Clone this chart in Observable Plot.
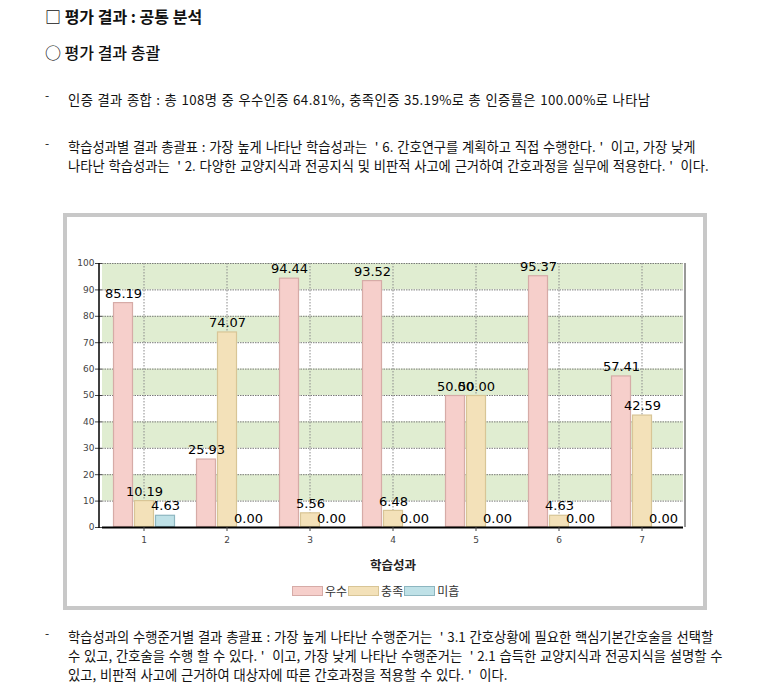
<!DOCTYPE html>
<html><head><meta charset="utf-8">
<script src="https://cdn.jsdelivr.net/npm/d3@7"></script>
<script src="https://cdn.jsdelivr.net/npm/@observablehq/plot@0.6"></script>
<style>
html,body{margin:0;padding:0;background:#fff;width:766px;height:692px;overflow:hidden;}
body{position:relative;font-family:"Noto Sans CJK KR","Noto Sans",sans-serif;color:#111;}
.t{position:absolute;white-space:nowrap;}
.h1{left:45px;top:4px;font-size:16px;font-weight:bold;}
.h2{left:45px;top:40px;font-size:16px;font-weight:500;}
.dash{position:absolute;left:45px;font-size:12px;}
.p{position:absolute;left:68px;font-size:13.3px;line-height:19px;white-space:pre;word-spacing:0.8px;}
#box{position:absolute;left:63px;top:213px;width:636px;height:389px;border:4px solid #c8c8c8;background:#fff;}
#chart{position:absolute;left:0;top:0;}
#legend{position:absolute;left:225px;top:365px;display:flex;align-items:center;font-size:12px;color:#333;font-family:"Noto Sans CJK KR",sans-serif;}
#legend .sw{display:inline-block;width:29px;height:8px;margin-right:2px;}
#legend span.l{margin-right:1px;}
g[aria-label="fx-axis label"] text{font-size:12.5px;font-weight:bold;font-family:"Noto Sans CJK KR",sans-serif;fill:#222;}
</style></head>
<body>
<div class="t h1">□ 평가 결과 : 공통 분석</div>
<div class="t h2">○ 평가 결과 총괄</div>
<div class="dash" style="top:86px">-</div>
<div class="p" style="top:90px;letter-spacing:0.4px">인증 결과 종합 : 총 108명 중 우수인증 64.81%, 충족인증 35.19%로 총 인증률은 100.00%로 나타남</div>
<div class="dash" style="top:134px">-</div>
<div class="p" style="top:137px">학습성과별 결과 총괄표 : 가장 높게 나타난 학습성과는  ' 6. 간호연구를 계획하고 직접 수행한다. '  이고, 가장 낮게
나타난 학습성과는  ' 2. 다양한 교양지식과 전공지식 및 비판적 사고에 근거하여 간호과정을 실무에 적용한다. '  이다.</div>
<div id="box"><div id="chart"></div><div id="legend"></div></div>
<div class="dash" style="top:624px">-</div>
<div class="p" style="top:627px">학습성과의 수행준거별 결과 총괄표 : 가장 높게 나타난 수행준거는  ' 3.1 간호상황에 필요한 핵심기본간호술을 선택할
수 있고, 간호술을 수행 할 수 있다. '  이고, 가장 낮게 나타난 수행준거는  ' 2.1 습득한 교양지식과 전공지식을 설명할 수
있고, 비판적 사고에 근거하여 대상자에 따른 간호과정을 적용할 수 있다. '  이다.</div>
<script>
// ---- data ----
const groups = ["1", "2", "3", "4", "5", "6", "7"];
const series = ["우수", "충족", "미흡"];
const excellent = [85.19, 25.93, 94.44, 93.52, 50.00, 95.37, 57.41];
const satisfied = [10.19, 74.07, 5.56, 6.48, 50.00, 4.63, 42.59];
const insufficient = [4.63, 0.00, 0.00, 0.00, 0.00, 0.00, 0.00];
const yTicks = [0, 10, 20, 30, 40, 50, 60, 70, 80, 90, 100];
const stripeStarts = [10, 30, 50, 70, 90];
const xLabel = "학습성과";
// ---- styles ----
const fills = ["#f6cfcb", "#f3e1b9", "#bfe1e7"];
const strokes = ["#d6aba7", "#d8c596", "#8db6c0"];

const seriesValues = [excellent, satisfied, insufficient];
const table = [];
groups.forEach((g, i) => series.forEach((s, j) => table.push({group: g, series: s, value: seriesValues[j][i]})));

const W = 636, H = 358, ML = 32, MR = 18, MT = 46, MB = 48;
const plot = Plot.plot({
  width: W, height: H,
  marginLeft: ML, marginRight: MR, marginTop: MT, marginBottom: MB,
  style: {fontFamily: "'DejaVu Sans', sans-serif", background: "transparent", overflow: "visible"},
  fx: {domain: groups, padding: 0, axis: null},
  x: {domain: series, paddingInner: 0.07, paddingOuter: 0.5, axis: null},
  y: {domain: [0, 100], axis: null},
  marks: [
    Plot.rect(stripeStarts, {y1: d => d, y2: d => d + 10, fill: "#e0edd1"}),
    Plot.gridY(yTicks, {stroke: "#7a7a7a", strokeOpacity: 1, strokeDasharray: "1.5,1", strokeWidth: 1}),
    Plot.gridFx({stroke: "#8a8a8a", strokeOpacity: 1, strokeDasharray: "1.5,1.5", strokeWidth: 1}),
    ...series.map((s, j) => Plot.barY(table.filter(d => d.series === s), {
      fx: "group", x: "series", y: "value", fill: fills[j], stroke: strokes[j], strokeWidth: 1.2, inset: 0.5
    })),
    Plot.text(table, {fx: "group", x: "series", y: "value", text: d => d.value.toFixed(2), dy: -9, fontSize: 13, fill: "#000"}),
    Plot.ruleY([0], {stroke: "#000", strokeWidth: 2}),
    Plot.axisY(yTicks, {anchor: "left", tickSize: 7, tickPadding: 1, fontSize: 9, color: "#444", label: null}),
    Plot.axisFx({anchor: "bottom", tickSize: 4, tickPadding: 5, fontSize: 9, color: "#444", label: xLabel, labelAnchor: "center", labelOffset: 42, labelArrow: "none"})
  ]
});
document.getElementById("chart").appendChild(plot);

// frame lines (left solid black, right dark gray)
const svg = d3.select(plot);
svg.append("line").attr("x1", ML).attr("x2", ML).attr("y1", MT).attr("y2", H - MB + 1)
  .attr("stroke", "#000").attr("stroke-width", 1.5);
svg.append("line").attr("x1", W - MR).attr("x2", W - MR).attr("y1", MT).attr("y2", H - MB)
  .attr("stroke", "#555").attr("stroke-width", 1.2);

// legend
const leg = d3.select("#legend");
series.forEach((s, j) => {
  leg.append("span").attr("class", "sw").style("background", fills[j]).style("border", `1px solid ${strokes[j]}`);
  leg.append("span").attr("class", "l").text(s);
});
</script>
</body></html>
